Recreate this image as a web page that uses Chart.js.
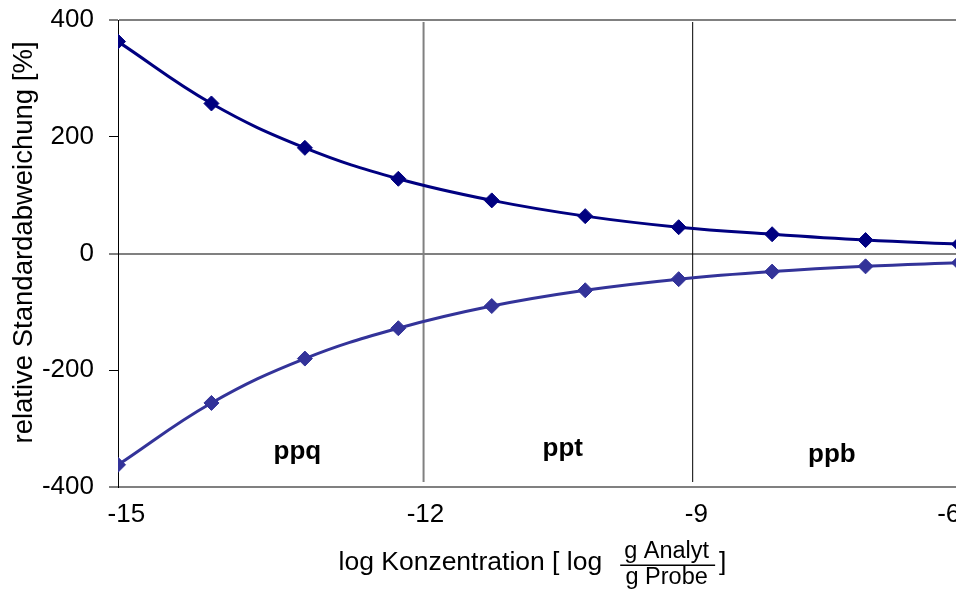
<!DOCTYPE html>
<html>
<head>
<meta charset="utf-8">
<script src="https://cdn.jsdelivr.net/npm/chart.js@4"></script>
<style>
html,body{margin:0;padding:0;background:#fff;overflow:hidden;}
#wrap{position:relative;width:1000px;height:590px;}
</style>
</head>
<body>
<div id="wrap"><canvas id="c"></canvas></div>
<script>
// ---- data ----
const logConc = [-15, -14, -13, -12, -11, -10, -9, -8, -7, -6];
const rsdUpper = [363, 257, 181, 128, 91, 64, 45, 33, 23, 16];
const rsdLower = [-362, -256, -180, -128, -90, -63, -44, -31, -22, -16];
const xTickLabels = ['-15', '-12', '-9', '-6'];
const xTickAt = [-14.91, -11.71, -8.81, -6.11];
const yTickValues = [-400, -200, 0, 200, 400];
const regionBounds = [-11.73, -8.85];
const regionNames = ['ppq', 'ppt', 'ppb'];
const regionLabelX = [-13.08, -10.24, -7.36];
const regionLabelY = [-340, -335, -345];
const yTitle = 'relative Standardabweichung [%]';
const xTitleMain = 'log Konzentration [ log';
const xTitleNum = 'g Analyt';
const xTitleDen = 'g Probe';
const xTitleEnd = ']';

const FONT = "'Liberation Sans', Arial, Helvetica, sans-serif";
Chart.defaults.font.family = FONT;
Chart.defaults.color = '#000';

const regionPlugin = {
  id: 'regions',
  beforeDatasetsDraw(chart, args, opts) {
    const {ctx, chartArea: ca, scales: {x, y}} = chart;
    ctx.save();
    regionBounds.forEach((b, i) => {
      const px = x.getPixelForValue(b);
      ctx.strokeStyle = opts.lineColors[i];
      ctx.lineWidth = opts.lineWidths[i];
      ctx.beginPath();
      ctx.moveTo(px, ca.top + 2);
      ctx.lineTo(px, ca.bottom - 5);
      ctx.stroke();
    });
    ctx.fillStyle = '#000';
    ctx.font = 'bold 26px ' + FONT;
    ctx.textAlign = 'center';
    ctx.textBaseline = 'middle';
    regionNames.forEach((n, i) => {
      ctx.fillText(n, x.getPixelForValue(regionLabelX[i]), y.getPixelForValue(regionLabelY[i]));
    });
    ctx.restore();
  }
};

const axisTitlePlugin = {
  id: 'axisTitles',
  afterDraw(chart) {
    const {ctx, chartArea: ca} = chart;
    ctx.save();
    ctx.fillStyle = '#000';

    // y-axis title (rotated)
    ctx.save();
    ctx.translate(24, (ca.top + ca.bottom) / 2 - 11);
    ctx.rotate(-Math.PI / 2);
    ctx.font = '27.5px ' + FONT;
    ctx.textAlign = 'center';
    ctx.textBaseline = 'middle';
    ctx.fillText(yTitle, 0, 0);
    ctx.restore();

    // x-axis title with fraction
    const cx = (ca.left + ca.right) / 2;
    ctx.textBaseline = 'alphabetic';
    ctx.font = '26.5px ' + FONT;
    ctx.textAlign = 'left';
    let xx = cx - 200;
    const mainW = ctx.measureText(xTitleMain).width;
    ctx.fillText(xTitleMain, xx, 570);
    xx += mainW + 21;
    ctx.font = '23.5px ' + FONT;
    const fw = Math.max(ctx.measureText(xTitleNum).width, ctx.measureText(xTitleDen).width);
    ctx.textAlign = 'center';
    ctx.fillText(xTitleNum, xx + fw / 2 + 1, 558);
    ctx.fillText(xTitleDen, xx + fw / 2 + 1, 584);
    ctx.fillRect(xx - 3, 564.5, fw + 10, 1.5);
    ctx.font = '26.5px ' + FONT;
    ctx.textAlign = 'left';
    ctx.fillText(xTitleEnd, xx + fw + 11, 570);
    ctx.restore();
  }
};

const pts = arr => logConc.map((x, i) => ({x: x, y: arr[i]}));

function series(label, values, color) {
  return {
    label: label,
    data: pts(values),
    borderColor: color,
    backgroundColor: color,
    pointBackgroundColor: color,
    pointBorderColor: color,
    borderWidth: 3,
    pointStyle: 'rectRot',
    pointRadius: 7.5,
    pointBorderWidth: 1,
    tension: 0.4,
    fill: false
  };
}

new Chart(document.getElementById('c'), {
  type: 'line',
  data: {
    datasets: [
      series('upper', rsdUpper, '#000080'),
      series('lower', rsdLower, '#333399')
    ]
  },
  options: {
    responsive: true,
    maintainAspectRatio: false,
    animation: false,
    events: [],
    layout: {padding: {top: 20, right: 41, bottom: 0, left: 0}},
    plugins: {
      legend: {display: false},
      tooltip: {enabled: false},
      regions: {lineColors: ['#808080', '#000000'], lineWidths: [2, 1]}
    },
    scales: {
      x: {
        type: 'linear',
        min: -15,
        max: -6,
        afterBuildTicks(s) { s.ticks = xTickAt.map(v => ({value: v})); },
        ticks: {
          callback: (v, i) => xTickLabels[i],
          font: {size: 26},
          padding: 12,
          maxRotation: 0,
          autoSkip: false
        },
        grid: {color: 'rgba(0,0,0,0)', drawTicks: false},
        border: {color: '#808080', width: 2},
        afterFit(s) { s.height = 103; }
      },
      y: {
        min: -400,
        max: 400,
        afterBuildTicks(s) { s.ticks = yTickValues.map(v => ({value: v})); },
        ticks: {font: {size: 26}, padding: 15},
        grid: {
          color: c => (c.tick && [400, 0, -400].includes(c.tick.value)) ? '#808080' : 'rgba(0,0,0,0)',
          lineWidth: c => (c.tick && [400, 0, -400].includes(c.tick.value)) ? 2 : 1,
          tickColor: '#000',
          tickLength: 9,
          tickWidth: 1
        },
        border: {color: '#000', width: 1},
        afterFit(s) { s.width = 118; s.paddingTop = 10; s.paddingBottom = 10; }
      }
    }
  },
  plugins: [regionPlugin, axisTitlePlugin]
});
</script>
</body>
</html>
